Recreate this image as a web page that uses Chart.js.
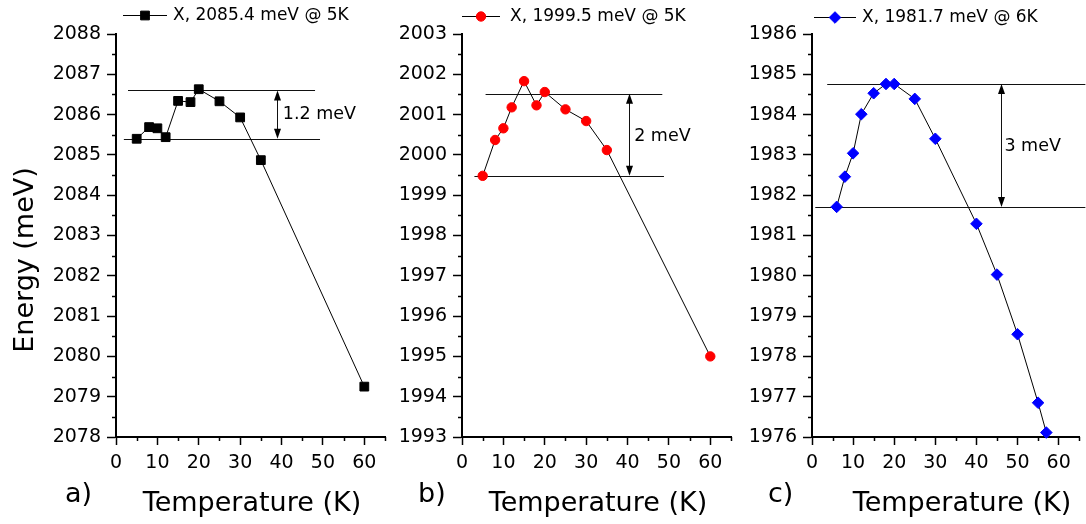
<!DOCTYPE html>
<html><head><meta charset="utf-8">
<script src="https://cdn.jsdelivr.net/npm/chart.js@4/dist/chart.umd.min.js"></script>
<style>
html,body{margin:0;padding:0;background:#fff;}
#wrap{position:relative;width:1086px;height:524px;overflow:hidden;background:#fff;}
canvas{position:absolute;top:0;}
</style></head><body>
<div id="wrap">
<canvas id="ca" width="400" height="524" style="left:0px"></canvas>
<canvas id="cb" width="340" height="524" style="left:400px"></canvas>
<canvas id="cc" width="346" height="524" style="left:740px"></canvas>
</div>
<script>
// ---- data ----
const tempA = [5, 8, 10, 12, 15, 18, 20, 25, 30, 35, 60];
const energyA = [2085.40, 2085.69, 2085.66, 2085.44, 2086.34, 2086.31, 2086.63, 2086.33, 2085.93, 2084.87, 2079.25];
const levelsA = [2085.40, 2086.60];
const labelA = 'X, 2085.4 meV @ 5K';
const deltaA = '1.2 meV';

const tempB = [5, 8, 10, 12, 15, 18, 20, 25, 30, 35, 60];
const energyB = [1999.48, 2000.37, 2000.66, 2001.18, 2001.83, 2001.23, 2001.56, 2001.13, 2000.84, 2000.12, 1995.0];
const levelsB = [1999.48, 2001.52];
const labelB = 'X, 1999.5 meV @ 5K';
const deltaB = '2 meV';

const tempC = [6, 8, 10, 12, 15, 18, 20, 25, 30, 40, 45, 50, 55, 57];
const energyC = [1981.71, 1982.46, 1983.04, 1984.01, 1984.53, 1984.76, 1984.76, 1984.39, 1983.40, 1981.29, 1980.03, 1978.55, 1976.85, 1976.11];
const levelsC = [1981.71, 1984.76];
const labelC = 'X, 1981.7 meV @ 6K';
const deltaC = '3 meV';

const xTickLabels = ['0','10','20','30','40','50','60'];
const xTitle = 'Temperature (K)';
const yTitle = 'Energy (meV)';

const FONT = '"DejaVu Sans", sans-serif';
Chart.defaults.font.family = FONT;
Chart.defaults.color = '#000';

function drawMarker(ctx, style, x, y, r, color) {
  ctx.save();
  ctx.fillStyle = color; ctx.strokeStyle = color; ctx.lineWidth = 1;
  ctx.beginPath();
  if (style === 'rect') { const s = Math.SQRT1_2 * r; ctx.rect(x - s, y - s, 2 * s, 2 * s); }
  else if (style === 'circle') { ctx.arc(x, y, r, 0, Math.PI * 2); }
  else { ctx.moveTo(x - r, y); ctx.lineTo(x, y - r); ctx.lineTo(x + r, y); ctx.lineTo(x, y + r); ctx.closePath(); }
  ctx.fill(); ctx.stroke();
  ctx.restore();
}

function panelPlugin(p) {
  return {
    id: 'panel_' + p.id,
    beforeDatasetsDraw(chart) {
      const {ctx, scales: {x, y}} = chart;
      ctx.save();
      ctx.strokeStyle = '#111'; ctx.lineWidth = 1;
      p.levels.forEach((lv, i) => {
        const py = Math.round(y.getPixelForValue(lv)) + 0.5;
        ctx.beginPath();
        ctx.moveTo(x.getPixelForValue(p.lineSpans[i][0]), py);
        ctx.lineTo(x.getPixelForValue(p.lineSpans[i][1]), py);
        ctx.stroke();
      });
      const ax = Math.round(x.getPixelForValue(p.arrowX)) + 0.5;
      const y1 = y.getPixelForValue(p.levels[1]);
      const y0 = y.getPixelForValue(p.levels[0]);
      ctx.beginPath(); ctx.moveTo(ax, y1 + 4); ctx.lineTo(ax, y0 - 4); ctx.stroke();
      ctx.fillStyle = '#000';
      const hl = 10, hw = 3.5;
      ctx.beginPath(); ctx.moveTo(ax, y1); ctx.lineTo(ax - hw, y1 + hl); ctx.lineTo(ax + hw, y1 + hl); ctx.closePath(); ctx.fill();
      ctx.beginPath(); ctx.moveTo(ax, y0); ctx.lineTo(ax - hw, y0 - hl); ctx.lineTo(ax + hw, y0 - hl); ctx.closePath(); ctx.fill();
      ctx.font = '17.5px ' + FONT;
      ctx.textAlign = 'left'; ctx.textBaseline = 'middle';
      ctx.fillText(p.delta, x.getPixelForValue(p.textPos[0]), y.getPixelForValue(p.textPos[1]));
      ctx.restore();
    },
    afterDraw(chart) {
      const {ctx, scales: {x, y}, chartArea} = chart;
      ctx.save();
      ctx.strokeStyle = '#000'; ctx.lineWidth = 1.5;
      for (let v = y.min + 0.5; v < y.max; v += 1) {
        const py = Math.round(y.getPixelForValue(v)) + 0.5;
        ctx.beginPath(); ctx.moveTo(chartArea.left - 4, py); ctx.lineTo(chartArea.left, py); ctx.stroke();
      }
      for (let v = 5; v <= 65; v += 10) {
        const px = Math.round(x.getPixelForValue(v)) + 0.5;
        ctx.beginPath(); ctx.moveTo(px, chartArea.bottom); ctx.lineTo(px, chartArea.bottom + 4); ctx.stroke();
      }
      const lg = p.legend;
      ctx.lineWidth = 1; ctx.strokeStyle = '#000';
      ctx.beginPath(); ctx.moveTo(lg.x0, lg.y + 0.5); ctx.lineTo(lg.x1, lg.y + 0.5); ctx.stroke();
      drawMarker(ctx, p.pointStyle, (lg.x0 + lg.x1) / 2, lg.y + 0.5, p.radius, p.color);
      ctx.fillStyle = '#000';
      ctx.font = '17px ' + FONT;
      ctx.textAlign = 'left'; ctx.textBaseline = 'middle';
      ctx.fillText(p.label, lg.tx, lg.y + 1);
      ctx.font = '27px ' + FONT;
      ctx.textBaseline = 'alphabetic';
      ctx.textAlign = 'left';
      ctx.fillText(p.letter, p.letterX, 502);
      ctx.textAlign = 'center';
      ctx.fillText(xTitle, p.titleX, 511);
      if (p.showY) {
        ctx.translate(26, 260);
        ctx.rotate(-Math.PI / 2);
        ctx.textBaseline = 'middle';
        ctx.fillText(yTitle, 0, 0);
      }
      ctx.restore();
    }
  };
}

function makeChart(p) {
  return new Chart(document.getElementById(p.id), {
    type: 'scatter',
    data: { datasets: [{
      label: p.label,
      data: p.temps.map((t, i) => ({x: t, y: p.energies[i]})),
      showLine: true, borderColor: '#000', borderWidth: 1, tension: 0,
      pointStyle: p.pointStyle, pointRadius: p.radius, pointHoverRadius: p.radius,
      pointBackgroundColor: p.color, pointBorderColor: p.color, pointBorderWidth: 1,
      clip: false
    }]},
    options: {
      responsive: false, animation: false, events: [],
      layout: { padding: { top: 34, right: p.padRight, left: 0, bottom: 0 } },
      plugins: { legend: { display: false }, tooltip: { enabled: false } },
      scales: {
        x: {
          type: 'linear', position: 'bottom', min: 0, max: 65,
          ticks: { stepSize: 10, includeBounds: false, maxRotation: 0, autoSkip: false,
                   font: { size: 19 }, color: '#000', padding: 7,
                   callback: (v) => xTickLabels[Math.round(v / 10)] },
          grid: { drawOnChartArea: false, drawTicks: true, tickLength: 8, tickColor: '#000', tickWidth: 1.5 },
          border: { display: true, color: '#000', width: 2 },
          afterFit: (s) => { s.height = 87; }
        },
        y: {
          type: 'linear', position: 'left', min: p.ymin, max: p.ymax,
          ticks: { stepSize: 1, autoSkip: false, font: { size: 19 }, color: '#000', padding: 6,
                   callback: (v) => String(Math.round(v)) },
          grid: { drawOnChartArea: false, drawTicks: true, tickLength: 9, tickColor: '#000', tickWidth: 1.5 },
          border: { display: true, color: '#000', width: 2 },
          afterFit: (s) => { s.width = p.axisW; }
        }
      }
    },
    plugins: [panelPlugin(p)]
  });
}

makeChart({
  id: 'ca', temps: tempA, energies: energyA, levels: levelsA, label: labelA, delta: deltaA,
  ymin: 2078, ymax: 2088, axisW: 116, padRight: 15,
  pointStyle: 'rect', radius: 6.2, color: '#000',
  lineSpans: [[1.9, 49.3], [2.9, 48.1]], arrowX: 39, textPos: [40.3, 2086.0],
  legend: { x0: 123, x1: 167, y: 15, tx: 173 },
  letter: 'a)', letterX: 65, titleX: 252, showY: true
});
makeChart({
  id: 'cb', temps: tempB, energies: energyB, levels: levelsB, label: labelB, delta: deltaB,
  ymin: 1993, ymax: 2003, axisW: 62, padRight: 9,
  pointStyle: 'circle', radius: 4.7, color: '#ff0000',
  lineSpans: [[3.0, 48.8], [5.7, 48.4]], arrowX: 40.4, textPos: [41.6, 2000.47],
  legend: { x0: 62, x1: 100, y: 16, tx: 110 },
  letter: 'b)', letterX: 18, titleX: 198, showY: false
});
makeChart({
  id: 'cc', temps: tempC, energies: energyC, levels: levelsC, label: labelC, delta: deltaC,
  ymin: 1976, ymax: 1986, axisW: 72, padRight: 5,
  pointStyle: 'rectRot', radius: 5.8, color: '#0000ff',
  lineSpans: [[0.8, 66.5], [3.7, 66.5]], arrowX: 46, textPos: [46.8, 1983.2],
  legend: { x0: 74, x1: 116, y: 17, tx: 122 },
  letter: 'c)', letterX: 28, titleX: 222, showY: false
});
</script>
</body></html>
